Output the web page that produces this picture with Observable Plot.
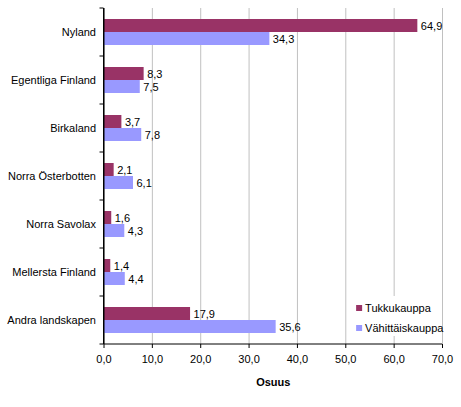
<!DOCTYPE html>
<html>
<head>
<meta charset="utf-8">
<script src="https://cdn.jsdelivr.net/npm/d3@7"></script>
<script src="https://cdn.jsdelivr.net/npm/@observablehq/plot@0.6"></script>
<style>
  html, body { margin: 0; padding: 0; background: #fff; }
  #chart svg { display: block; }
  #chart [aria-label="x-axis label"] text { font-weight: bold; }
</style>
</head>
<body>
<div id="chart"></div>
<script>
// Regions, top to bottom
const regions = ["Nyland", "Egentliga Finland", "Birkaland", "Norra Österbotten", "Norra Savolax", "Mellersta Finland", "Andra landskapen"];
// Series
const series = ["Tukkukauppa", "Vähittäiskauppa"];
// Share (%) per region
const tukkukauppa = [64.9, 8.3, 3.7, 2.1, 1.6, 1.4, 17.9];
const vahittaiskauppa = [34.3, 7.5, 7.8, 6.1, 4.3, 4.4, 35.6];
// x-axis ticks
const xTicks = [0, 10, 20, 30, 40, 50, 60, 70];
const colors = ["#993366", "#9999FF"];

const rows = regions.flatMap((r, i) => [
  {region: r, series: series[0], value: tukkukauppa[i]},
  {region: r, series: series[1], value: vahittaiskauppa[i]}
]);

const fmt = (v) => d3.format(".1f")(v).replace(".", ",");

const plot = Plot.plot({
  width: 461,
  height: 407,
  marginLeft: 103.5,
  marginRight: 19,
  marginTop: 5,
  marginBottom: 61,
  style: {fontFamily: "Arial, 'Liberation Sans', sans-serif", fontSize: "11px", color: "#000", background: "#fff"},
  x: {domain: [0, 70]},
  fy: {domain: regions, padding: 0},
  y: {domain: series, paddingInner: 0, paddingOuter: 0.74},
  color: {domain: series, range: colors},
  marks: [
    Plot.gridX(xTicks, {stroke: "#c0c0c0", strokeOpacity: 1}),
    Plot.barX(rows, {fy: "region", y: "series", x: "value", fill: "series"}),
    Plot.text(rows, {fy: "region", y: "series", x: "value", text: (d) => fmt(d.value), textAnchor: "start", dx: 3, fill: "#000", fontSize: 11}),
    Plot.ruleX([0], {stroke: "#000"}),
    Plot.axisFy({anchor: "left", tickSize: 0, tickPadding: 8, label: null, fontSize: 11}),
    Plot.axisY({ticks: [], label: null}),
    Plot.axisX(xTicks, {anchor: "bottom", tickSize: 4, tickPadding: 7, tickFormat: fmt, label: "Osuus", labelAnchor: "center", labelArrow: "none", labelOffset: 41, fontSize: 11})
  ]
});

document.getElementById("chart").appendChild(plot);

// Axis lines, category boundary ticks and legend drawn with the plot's own scales
const svg = d3.select(plot);
const xs = plot.scale("x");
const fys = plot.scale("fy");
const xStart = xs.apply(0), xEnd = xs.apply(70);
const bw = fys.bandwidth;
const yTop = fys.apply(regions[0]);
const yBottom = fys.apply(regions[regions.length - 1]) + bw;

const axes = svg.append("g");
axes.append("line").attr("x1", xStart).attr("x2", xEnd).attr("y1", yBottom).attr("y2", yBottom).attr("stroke", "#000");
axes.append("line").attr("x1", xStart).attr("x2", xStart).attr("y1", yTop).attr("y2", yBottom).attr("stroke", "#000");
const bounds = regions.map((r) => fys.apply(r)).concat([yBottom]);
axes.selectAll("line.b").data(bounds).join("line").attr("class", "b")
  .attr("x1", xStart - 4).attr("x2", xStart).attr("y1", (d) => d).attr("y2", (d) => d).attr("stroke", "#000");

// Legend inside the lower right corner of the plot area
const legendX = xs.apply(51);
const lg = svg.append("g").attr("transform", `translate(${legendX}, ${fys.apply(regions[6])})`);
lg.append("rect").attr("x", 0).attr("y", 0).attr("width", xEnd - legendX).attr("height", 40).attr("fill", "#fff");
series.forEach((s, i) => {
  lg.append("rect").attr("x", 6).attr("y", 9 + i * 20).attr("width", 6).attr("height", 6).attr("fill", colors[i]);
  lg.append("text").attr("x", 15).attr("y", 16 + i * 20).attr("font-size", 11).attr("text-anchor", "start").attr("fill", "#000").text(s);
});
</script>
</body>
</html>
